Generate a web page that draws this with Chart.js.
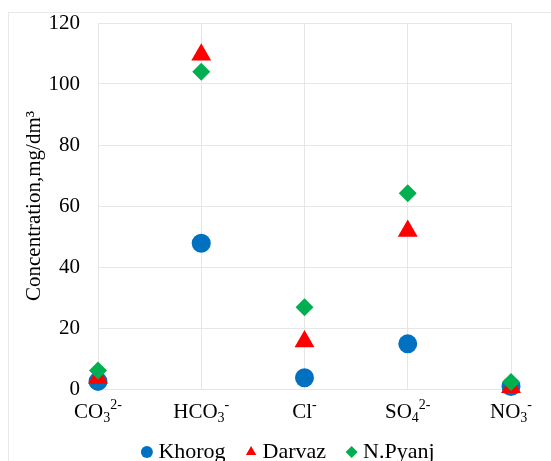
<!DOCTYPE html>
<html>
<head>
<meta charset="utf-8">
<script src="https://cdn.jsdelivr.net/npm/chart.js@4.4.1/dist/chart.umd.min.js"></script>
<style>
  html, body { margin: 0; padding: 0; background: #fff; }
  #wrap { position: relative; width: 551px; height: 461px; }
  #frame { position: absolute; left: 8px; top: 12px; width: 600px; height: 500px; border: 1px solid #e8e8e8; box-sizing: border-box; }
  canvas { position: absolute; left: 0; top: 0; }
</style>
</head>
<body>
<div id="wrap">
  <div id="frame"></div>
  <canvas id="chart" width="551" height="461"></canvas>
</div>
<script>
// ions, with _{sub} and ^{sup} parts
const categories = ["CO_{3}^{2-}", "HCO_{3}^{-}", "Cl^{-}", "SO_{4}^{2-}", "NO_{3}^{-}"];
const khorog = [2.5, 47.8, 3.7, 14.8, 0.8];
const darvaz = [3.6, 109.6, 15.6, 51.8, 0.6];
const nPyanj = [6.1, 104, 26.8, 64.2, 2.3];
const yTicks = [0, 20, 40, 60, 80, 100, 120];

const serif = "'Liberation Serif', 'Times New Roman', serif";
Chart.defaults.font.family = serif;
Chart.defaults.color = "#000";

function toPoints(arr) {
  return arr.map((v, i) => ({ x: i, y: v }));
}

function parseLabel(s) {
  const parts = [];
  const re = /([_^])\{([^}]*)\}|([^_^]+)/g;
  let m;
  while ((m = re.exec(s)) !== null) {
    if (m[3]) parts.push({ t: m[3], k: 0 });
    else parts.push({ t: m[2], k: m[1] === "_" ? 1 : -1 });
  }
  return parts;
}

// draws the ion names with sub/superscripts under the x axis
const ionLabels = {
  id: "ionLabels",
  afterDraw(chart) {
    const ctx = chart.ctx;
    const xs = chart.scales.x;
    const base = chart.chartArea.bottom + 23;
    ctx.save();
    ctx.fillStyle = "#000";
    ctx.textBaseline = "middle";
    ctx.textAlign = "left";
    categories.forEach((c, i) => {
      const parts = parseLabel(c);
      let w = 0;
      parts.forEach(p => {
        ctx.font = (p.k ? 14 : 21) + "px " + serif;
        p.w = ctx.measureText(p.t).width;
        w += p.w;
      });
      let x = xs.getPixelForValue(i) - w / 2;
      parts.forEach(p => {
        ctx.font = (p.k ? 14 : 21) + "px " + serif;
        const dy = p.k === 1 ? 6 : p.k === -1 ? -7 : 0;
        ctx.fillText(p.t, x, base + dy);
        x += p.w;
      });
    });
    ctx.restore();
  }
};

// nudge the legend to where the original has it
const legendShift = {
  id: "legendShift",
  afterLayout(chart) {
    const lg = chart.legend;
    const dx = 35, dy = 12;
    lg.left += dx; lg.right += dx;
    lg.top += dy; lg.bottom += dy;
  }
};

new Chart(document.getElementById("chart"), {
  type: "scatter",
  data: {
    datasets: [
      {
        label: "Khorog",
        data: toPoints(khorog),
        pointStyle: "circle",
        pointRadius: 9.5,
        pointHoverRadius: 9.5,
        backgroundColor: "#0070C0",
        borderColor: "#0070C0",
        borderWidth: 0,
        clip: false,
        order: 2,
      },
      {
        label: "Darvaz",
        data: toPoints(darvaz),
        pointStyle: "triangle",
        pointRadius: 11.5,
        pointHoverRadius: 11.5,
        backgroundColor: "#FF0000",
        borderColor: "#FF0000",
        borderWidth: 0,
        clip: false,
        order: 1,
      },
      {
        label: "N.Pyanj",
        data: toPoints(nPyanj),
        pointStyle: "rectRot",
        pointRadius: 9,
        pointHoverRadius: 9,
        backgroundColor: "#00B050",
        borderColor: "#00B050",
        borderWidth: 0,
        clip: false,
        order: 0,
      },
    ],
  },
  options: {
    responsive: false,
    animation: false,
    layout: {
      padding: { left: 0, right: 40, top: 23, bottom: 0 },
    },
    plugins: {
      legend: {
        position: "bottom",
        labels: {
          usePointStyle: true,
          boxWidth: 1,
          boxHeight: 8.5,
          padding: 25,
          color: "#000",
          font: { family: serif, size: 22 },
          generateLabels(chart) {
            return chart.data.datasets.map((d, i) => ({
              text: d.label,
              fillStyle: d.backgroundColor,
              strokeStyle: d.backgroundColor,
              lineWidth: 0,
              pointStyle: d.pointStyle,
              datasetIndex: i,
              fontColor: "#000",
            }));
          },
        },
      },
      tooltip: { enabled: false },
    },
    scales: {
      x: {
        type: "linear",
        min: 0,
        max: categories.length - 1,
        ticks: {
          stepSize: 1,
          callback: () => "",
        },
        grid: { color: "#e6e6e6", drawTicks: false },
        border: { color: "#e6e6e6" },
        afterFit(scale) { scale.height = 15; },
      },
      y: {
        min: 0,
        max: 120,
        afterBuildTicks(scale) { scale.ticks = yTicks.map(v => ({ value: v })); },
        ticks: {
          color: "#000",
          padding: 18,
          font: { family: serif, size: 21 },
        },
        grid: { color: "#e6e6e6", drawTicks: false },
        border: { color: "#e6e6e6" },
        title: {
          display: true,
          text: "Concentration,mg/dm³",
          color: "#000",
          font: { family: serif, size: 21 },
          padding: { top: 22, bottom: 0 },
        },
        afterFit(scale) {
          scale.width = 98;
          scale.paddingTop = 0;
          scale.paddingBottom = 0;
        },
      },
    },
  },
  plugins: [ionLabels, legendShift],
});
</script>
</body>
</html>
